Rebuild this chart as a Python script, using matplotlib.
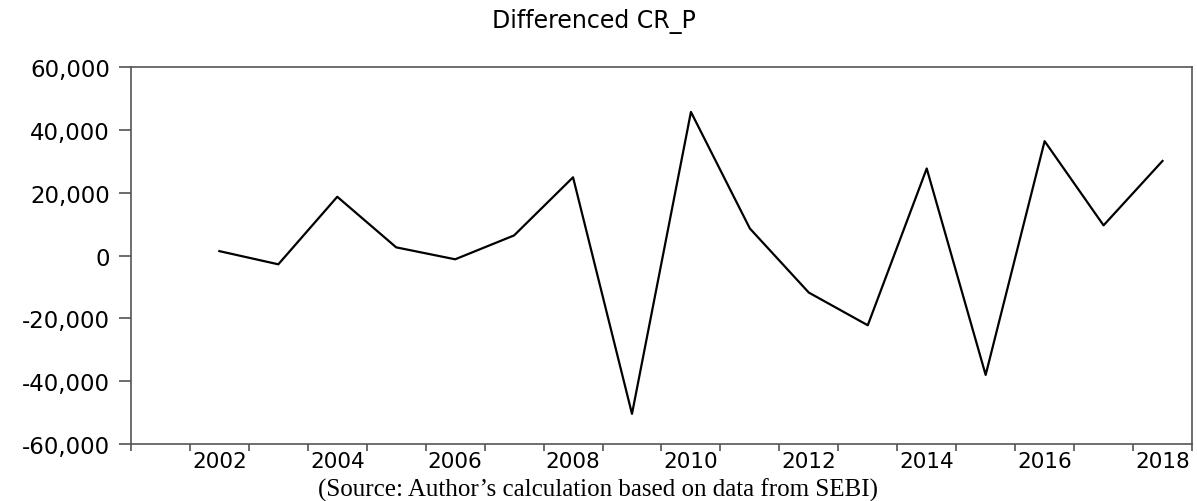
import numpy as np
import matplotlib.pyplot as plt
from matplotlib.ticker import FuncFormatter, FixedLocator

# Differenced CR_P, annual (2001 is lost to differencing)
years = [2002, 2003, 2004, 2005, 2006, 2007, 2008, 2009, 2010,
         2011, 2012, 2013, 2014, 2015, 2016, 2017, 2018]
d_cr_p = [1400, -2800, 18700, 2600, -1200, 6400, 24900, -50400, 45700,
          8600, -11800, -22200, 27700, -38000, 36400, 9600, 30100]

y_ticks = [-60000, -40000, -20000, 0, 20000, 40000, 60000]
x_labels = [2002, 2004, 2006, 2008, 2010, 2012, 2014, 2016, 2018]


def thousands(v, pos=None):
    return "{:,}".format(int(v))


fig = plt.figure(figsize=(11.97, 5.02), dpi=100)
ax = fig.add_axes([0.1094, 0.1135, 0.8864, 0.751])

ax.plot(years, d_cr_p, color="black", linewidth=1.6)

ax.set_xlim(2000.5, 2018.5)
ax.set_ylim(-60000, 60000)

# labels sit in the middle of each year, ticks mark the year boundaries
ax.xaxis.set_major_locator(FixedLocator(x_labels))
ax.xaxis.set_minor_locator(FixedLocator(np.arange(2000.5, 2019, 1.0)))
ax.tick_params(axis="x", which="major", length=0, pad=5, labelsize=15.5)
ax.tick_params(axis="x", which="minor", length=5, width=1.1, color="#444444", direction="out")

ax.yaxis.set_major_locator(FixedLocator(y_ticks))
ax.yaxis.set_major_formatter(FuncFormatter(thousands))
ax.tick_params(axis="y", length=9, width=1.1, color="#444444", direction="out", pad=6, labelsize=16.5)

for lab in ax.get_xticklabels() + ax.get_yticklabels():
    lab.set_fontfamily("DejaVu Sans")

for sp in ax.spines.values():
    sp.set_color("#555555")
    sp.set_linewidth(1.2)

fig.text(0.496, 0.958, "Differenced CR_P", ha="center", va="center",
         fontsize=17, family="DejaVu Sans")
fig.text(0.5, 0.01, "(Source: Author\u2019s calculation based on data from SEBI)",
         ha="center", va="baseline", fontsize=18, family="Liberation Serif")

fig.savefig("out.png", dpi=100)
